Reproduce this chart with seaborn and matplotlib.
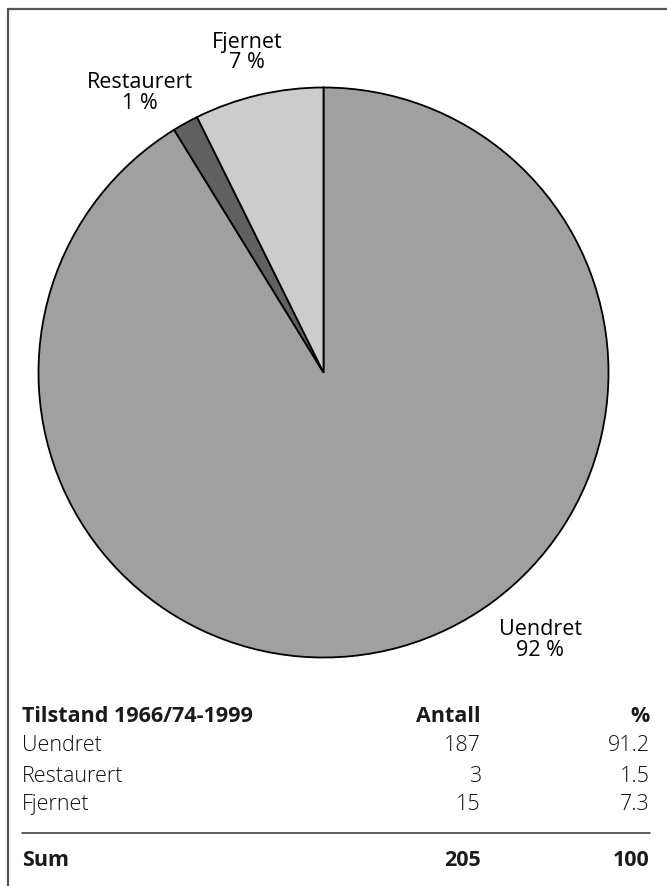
import matplotlib
matplotlib.use("Agg")
import matplotlib.pyplot as plt
from matplotlib.lines import Line2D
import seaborn as sns

# data
categories = ["Uendret", "Restaurert", "Fjernet"]
antall = [187, 3, 15]
prosent = ["91.2", "1.5", "7.3"]
pie_labels = ["92 %", "1 %", "7 %"]
total_antall = "205"
total_prosent = "100"
colors = ["#a0a0a0", "#606060", "#cccccc"]

sns.set_theme(style="white")
plt.rcParams["font.family"] = ["Open Sans", "DejaVu Sans"]

W, H = 667, 887
fig = plt.figure(figsize=(W / 100, H / 100), dpi=100)

# pie axes placed in pixel units
cx, cy, r = 323.5, 373.5, 285
ax = fig.add_axes([(cx - r) / W, (H - cy - r) / H, 2 * r / W, 2 * r / H])
ax.pie(antall, colors=colors, startangle=90, counterclock=False,
       wedgeprops=dict(edgecolor="black", linewidth=1.3))
ax.set_xlim(-1, 1)
ax.set_ylim(-1, 1)
ax.axis("off")

# slice labels
label_pos = [(0.76, -0.935), (-0.644, 0.984), (-0.268, 1.125)]
for cat, lab, (x, y) in zip(categories, pie_labels, label_pos):
    ax.text(x, y, f"{cat}\n{lab}", ha="center", va="center", fontsize=15.5,
            linespacing=0.95, color="black", clip_on=False)

# frame lines (left and top)
def px(x, y):
    return x / W, 1 - y / H

x0, y0 = px(7.5, 10)
fig.add_artist(Line2D([x0, x0], [y0, 0], color="#555555", lw=1.6, transform=fig.transFigure))
fig.add_artist(Line2D([x0, 1], [y0, y0], color="#555555", lw=1.6, transform=fig.transFigure))

# table below
fs = 15.5
col_x = [22, 481, 650]
head_kw = dict(va="center", fontsize=fs, fontweight="bold", color="#1a1a1a")
row_kw = dict(va="center", fontsize=fs, fontweight="light", color="#111111")

header_y = 717
fig.text(*px(col_x[0], header_y), "Tilstand 1966/74-1999", ha="left", **head_kw)
fig.text(*px(col_x[1], header_y), "Antall", ha="right", **head_kw)
fig.text(*px(col_x[2], header_y), "%", ha="right", **head_kw)

row_y = [746, 776, 805]
for cat, n, p, y in zip(categories, antall, prosent, row_y):
    fig.text(*px(col_x[0], y), cat, ha="left", **row_kw)
    fig.text(*px(col_x[1], y), str(n), ha="right", **row_kw)
    fig.text(*px(col_x[2], y), p, ha="right", **row_kw)

lx0, ly = px(22, 834)
lx1, _ = px(650, 834)
fig.add_artist(Line2D([lx0, lx1], [ly, ly], color="#333333", lw=1.1, transform=fig.transFigure))

sum_y = 861
fig.text(*px(col_x[0], sum_y), "Sum", ha="left", **head_kw)
fig.text(*px(col_x[1], sum_y), total_antall, ha="right", **head_kw)
fig.text(*px(col_x[2], sum_y), total_prosent, ha="right", **head_kw)

fig.savefig("out.png", dpi=100)
